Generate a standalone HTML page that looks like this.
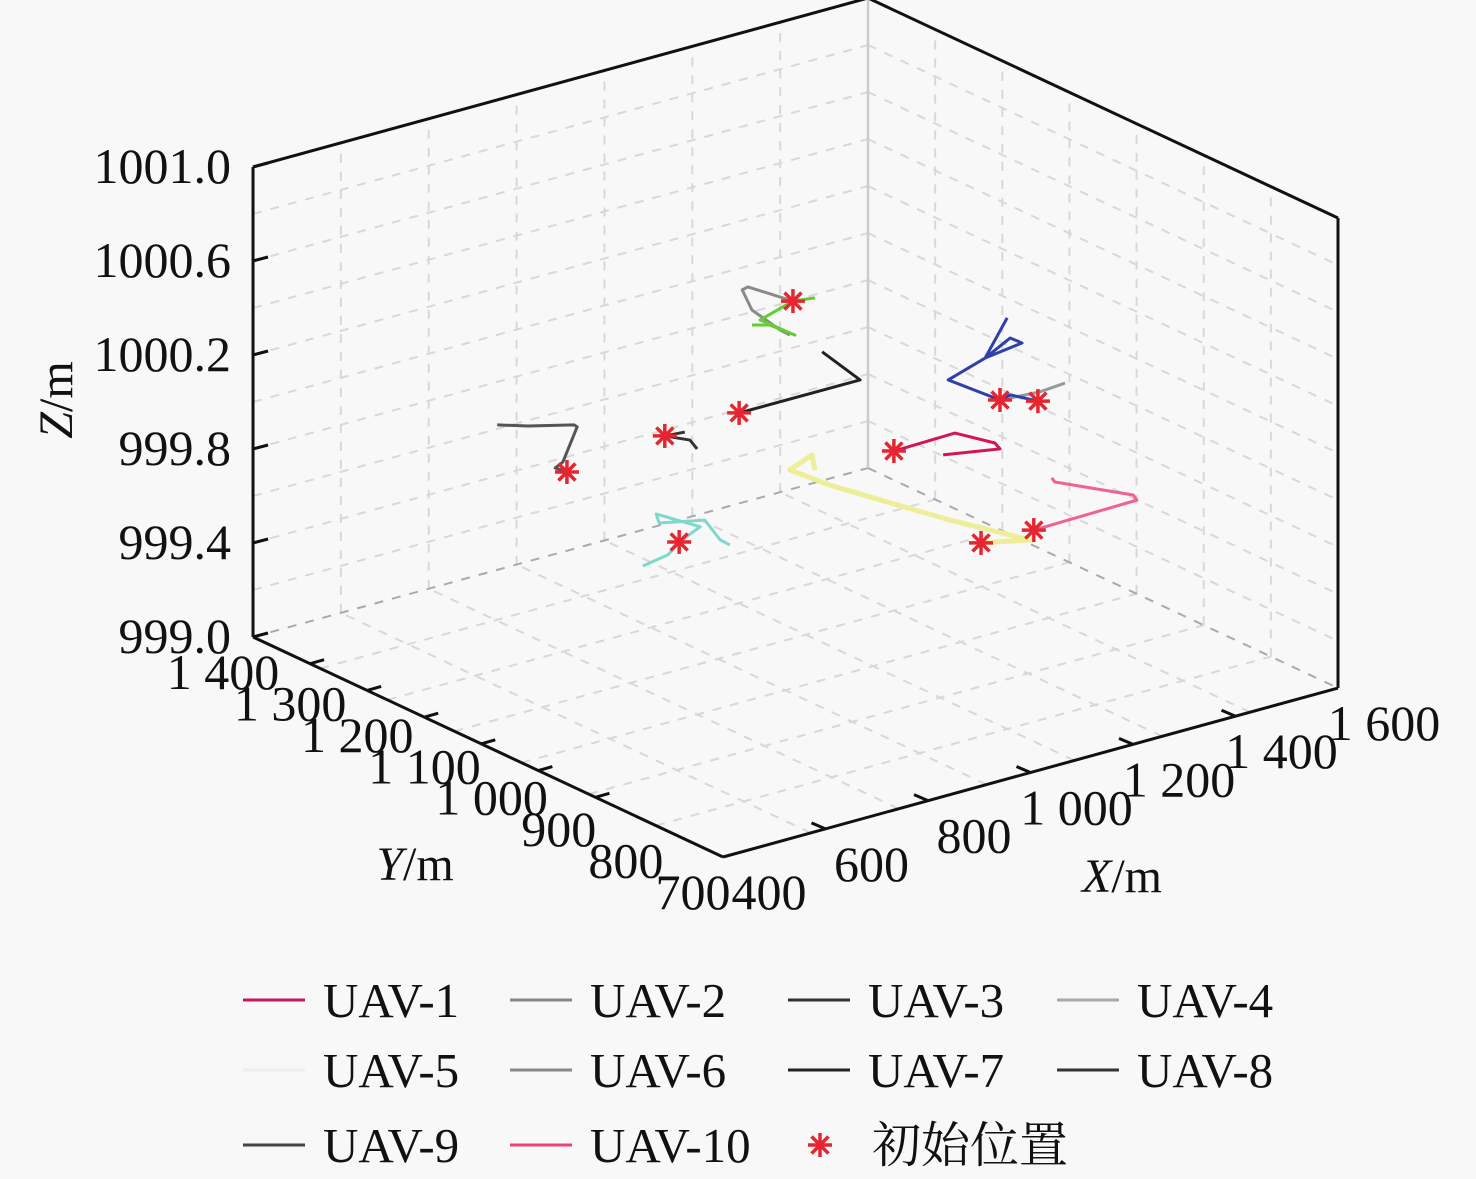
<!DOCTYPE html>
<html><head><meta charset="utf-8">
<style>
html,body{margin:0;padding:0;background:#f8f8f8;}
svg{display:block;}
text{font-family:"Liberation Serif","Noto Serif CJK SC",serif;fill:#111;}
</style></head>
<body>
<svg id="chart" width="1476" height="1179" viewBox="0 0 1476 1179" xmlns="http://www.w3.org/2000/svg">
<rect width="1476" height="1179" fill="#f8f8f8"/>
<g id="grid"></g>
<g id="box"></g>
<g id="series"></g>
<g id="ticks"></g>
<text x="72" y="400" font-size="48" text-anchor="middle" transform="rotate(-90 72 400)"><tspan font-style="italic">Z</tspan>/m</text>
<text x="415" y="880" font-size="48" text-anchor="middle"><tspan font-style="italic">Y</tspan>/m</text>
<text x="1122" y="892" font-size="48" text-anchor="middle"><tspan font-style="italic">X</tspan>/m</text>
<g id="legend"></g>
</svg>
<script>
const NS="http://www.w3.org/2000/svg";
// ---- data ----
const seriesNames=["UAV-1","UAV-2","UAV-3","UAV-4","UAV-5","UAV-6","UAV-7","UAV-8","UAV-9","UAV-10"];
const legendColors=["#c2185b","#888888","#333333","#aaaaaa","#eeeeee","#888888","#222222","#333333","#444444","#ec407a"];
const lineColors=["#d4145a","#8a8a8a","#333333","#999999","#eeee99","#66cc33","#222222","#3040a8","#555555","#f06292"];
const yFixed=1050;
const uav1X=[1192,1311,1389,1399,1288];
const uav1Z=[999.785,999.790,999.701,999.670,999.711];
const uav2X=[995,907,896,915,970,989];
const uav2Z=[1000.541,1000.654,1000.648,1000.551,1000.433,1000.400];
const uav3X=[784,745,794,808];
const uav3Z=[1000.110,1000.117,1000.070,1000.024];
const uav4X=[1399,1477,1526];
const uav4Z=[999.878,999.866,999.874];
const uav5X=[1362,1458,1301,1165,1067,989,1032,1038];
const uav5Z=[999.292,999.247,999.426,999.593,999.715,999.826,999.864,999.797];
const uav6X=[1038,995,931,999,950,915];
const uav6Z=[1000.529,1000.541,1000.499,1000.394,1000.466,1000.487];
const uav7X=[890,1126,1052];
const uav7Z=[1000.128,1000.127,1000.291];
const uav8X=[1473,1419,1399,1298,1370,1442,1419,1370,1413];
const uav8Z=[999.829,999.888,999.878,1000.024,1000.074,1000.095,1000.130,1000.074,1000.219];
const uav9X=[554,531,546,574,568,478,418];
const uav9Z=[1000.078,1000.109,1000.125,1000.258,1000.270,1000.319,1000.360];
const uav10X=[1465,1666,1659,1506,1500];
const uav10Z=[999.285,999.292,999.318,999.465,999.486];
const cyanX=[702,751,773,814,728,734,823,853,872];
const cyanZ=[999.589,999.607,999.649,999.689,999.795,999.753,999.712,999.610,999.577];
const startX=[554,745,890,995,1192,1399,1473,1362,1465,773];
const startZ=[1000.078,1000.117,1000.128,1000.541,999.785,999.878,999.829,999.292,999.285,999.649];
const zTicks=[999.0,999.4,999.8,1000.2,1000.6,1001.0];
const zTickLabels=["999.0","999.4","999.8","1000.2","1000.6","1001.0"];
const xTicks=[400,600,800,1000,1200,1400,1600];
const xTickLabels=["400","600","800","1 000","1 200","1 400","1 600"];
const yTicks=[1400,1300,1200,1100,1000,900,800,700];
const yTickLabels=["1 400","1 300","1 200","1 100","1 000","900","800","700"];
// ---- projection ----
function P(X,Y,z){
  return [723+(X-400)*0.5125-(Y-700)*0.6714, 857-(X-400)*0.1408-(Y-700)*0.3143-(z-999)*235];
}
function mk(tag,attrs,parent){const e=document.createElementNS(NS,tag);for(const k in attrs)e.setAttribute(k,attrs[k]);parent.appendChild(e);return e;}
function line(a,b,parent,stroke,w,dash){const l=mk("line",{x1:a[0],y1:a[1],x2:b[0],y2:b[1],stroke:stroke,"stroke-width":w},parent);if(dash)l.setAttribute("stroke-dasharray",dash);return l;}
const G=document.getElementById("grid"),B=document.getElementById("box"),S=document.getElementById("series"),T=document.getElementById("ticks"),L=document.getElementById("legend");
const gc="#d8d8d8",gd="9 9";
for(let k=1;k<7;k++){const X=400+k*1200/7;const l=line(P(X,1400,999),P(X,1400,1001),G,gc,2,gd);

}
for(let z=999.2;z<1000.95;z+=0.2){const l=line(P(400,1400,z),P(1600,1400,z),G,gc,2,gd);


const l2=line(P(1600,1400,z),P(1600,700,z),G,gc,2,gd);

}
for(let k=1;k<7;k++){const Y=700+k*100;const l=line(P(1600,Y,999),P(1600,Y,1001),G,gc,2,gd);


const f=line(P(400,Y,999),P(1600,Y,999),G,gc,2,gd);

}
for(let k=1;k<7;k++){const X=400+k*1200/7;const f=line(P(X,700,999),P(X,1400,999),G,gc,2,gd);

}
line(P(400,1400,999),P(1600,1400,999),G,"#aaa",2,gd);
line(P(1600,1400,999),P(1600,700,999),G,"#aaa",2,gd);
line(P(1600,1400,999),P(1600,1400,1001),G,"#ccc",2.5,null);
const edges=[[[400,1400,1001],[1600,1400,1001]],[[1600,1400,1001],[1600,700,1001]],[[400,1400,999],[400,1400,1001]],[[1600,700,999],[1600,700,1001]],[[400,1400,999],[400,700,999]],[[400,700,999],[1600,700,999]]];
edges.forEach(e=>{const l=line(P(...e[0]),P(...e[1]),B,"#111",3,null);

});
const allX=[uav1X,uav2X,uav3X,uav4X,uav5X,uav6X,uav7X,uav8X,uav9X,uav10X,cyanX];
const allZ=[uav1Z,uav2Z,uav3Z,uav4Z,uav5Z,uav6Z,uav7Z,uav8Z,uav9Z,uav10Z,cyanZ];
const cols=lineColors.concat(["#80d8cc"]);
allX.forEach((xs,i)=>{
  const pts=xs.map((x,j)=>P(x,yFixed,allZ[i][j]).join(",")).join(" ");
  const p=mk("polyline",{points:pts,fill:"none",stroke:cols[i],"stroke-width":i===4?5:3,"stroke-linejoin":"round"},S);
  
  
});
function star(c,parent){const g=mk("g",{},parent);for(let a=0;a<4;a++){const t=a*Math.PI/4;line([c[0]-12*Math.cos(t),c[1]-12*Math.sin(t)],[c[0]+12*Math.cos(t),c[1]+12*Math.sin(t)],g,"#e52530",3.5,null);}return g;}
startX.forEach((x,i)=>{const g=star(P(x,yFixed,startZ[i]),S);

});
zTicks.forEach((z,i)=>{const p=P(400,1400,z);line(p,[p[0]+15,p[1]-4],T,"#111",3,null);
const t=mk("text",{x:p[0]-22,y:p[1]+16,"font-size":50,"text-anchor":"end"},T);t.textContent=zTickLabels[i];

});
yTicks.forEach((y,i)=>{const p=P(400,y,999);if(i>0&&i<7){const q=P(400,1400-i*85,999);line(q,[q[0]+14,q[1]-4],T,"#111",3,null);}
const t=mk("text",{x:p[0]-30,y:p[1]+52,"font-size":50,"text-anchor":"middle"},T);t.textContent=yTickLabels[i];

});
xTicks.forEach((x,i)=>{const p=P(x,700,999);if(i>0&&i<6){line(p,[p[0]-14,p[1]-6],T,"#111",3,null);}
const t=mk("text",{x:p[0]+46,y:p[1]+52,"font-size":50,"text-anchor":"middle"},T);t.textContent=xTickLabels[i];

});
const lx=[243,510,788,1057],ly=[1000,1070,1145];
seriesNames.forEach((n,i)=>{const r=Math.floor(i/4),c=i%4;const g=mk("g",{},L);


line([lx[c],ly[r]],[lx[c]+62,ly[r]],g,legendColors[i],3,null);
const t=mk("text",{x:lx[c]+80,y:ly[r]+17,"font-size":49},g);t.textContent=n;});
const sg=mk("g",{},L);


star([820,1145],sg);
const st=mk("text",{x:872,y:1162,"font-size":49},sg);st.textContent="初始位置";
</script>
</body></html>
